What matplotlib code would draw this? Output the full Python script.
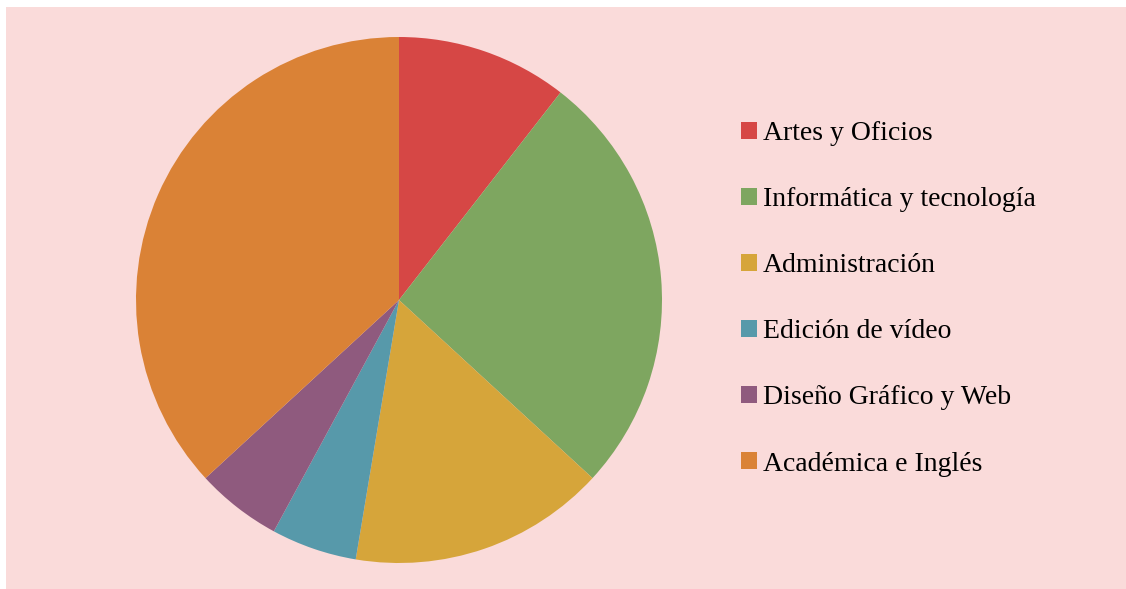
import matplotlib.pyplot as plt
from matplotlib.patches import Rectangle

# course areas and counts
categorias = ["Artes y Oficios", "Informática y tecnología", "Administración",
              "Edición de vídeo", "Diseño Gráfico y Web", "Académica e Inglés"]
valores = [2, 5, 3, 1, 1, 7]
colores = ["#D64745", "#7EA660", "#D6A53A", "#5799AA", "#8F5A7E", "#DA8236"]

plt.rcParams['font.family'] = ['Liberation Serif', 'DejaVu Serif']

W, H = 1126, 589
fig = plt.figure(figsize=(W/100, H/100), dpi=100, facecolor="white")

# pink background panel with thin white margin top/left
fig.patches.append(Rectangle((6/W, 0), 1 - 6/W, 1 - 7/H, transform=fig.transFigure,
                             facecolor="#FADBDA", edgecolor="none", zorder=-10))

cx, cy, r = 399, 589 - 300, 263
ax = fig.add_axes([(cx - r)/W, (cy - r)/H, 2*r/W, 2*r/H])
ax.set_facecolor("none")
wedges, _ = ax.pie(valores, colors=colores, startangle=90, counterclock=False,
                   radius=1, wedgeprops=dict(linewidth=0))
ax.set_xlim(-1, 1)
ax.set_ylim(-1, 1)
ax.set_aspect("equal")
ax.axis("off")

leg = fig.legend(wedges, categorias, loc="upper left",
                 bbox_to_anchor=(741/W, 1 - 121/H), frameon=False,
                 fontsize=20, handlelength=0.58, handleheight=0.58,
                 handletextpad=0.22, labelspacing=1.48, borderaxespad=0,
                 borderpad=0)

fig.savefig("out.png", dpi=100, facecolor=fig.get_facecolor())
